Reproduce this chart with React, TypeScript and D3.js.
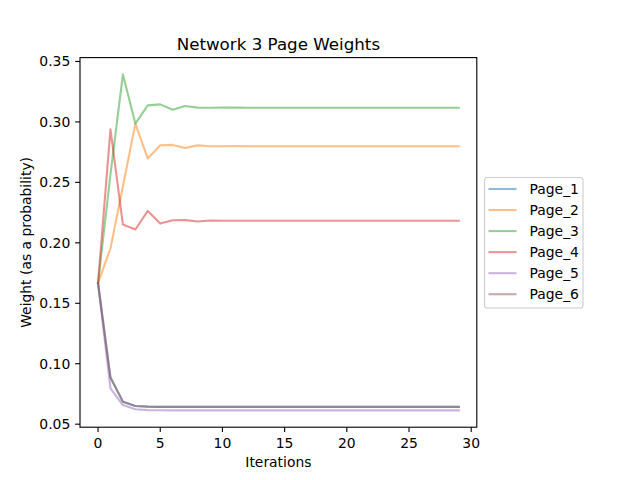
import React from "react";
import * as d3 from "d3";

const iterations: number[] = Array.from({ length: 30 }, (_, i) => i);

const page1: number[] = [0.1667, 0.0886, 0.0685, 0.0650, 0.0645, 0.0643, 0.0643, 0.0643, 0.0643, 0.0643, 0.0643, 0.0643, 0.0643, 0.0643, 0.0643, 0.0643, 0.0643, 0.0643, 0.0643, 0.0643, 0.0643, 0.0643, 0.0643, 0.0643, 0.0643, 0.0643, 0.0643, 0.0643, 0.0643, 0.0643];
const page2: number[] = [0.1667, 0.1955, 0.2468, 0.2986, 0.2697, 0.2807, 0.2810, 0.2784, 0.2806, 0.2799, 0.2799, 0.2800, 0.2799, 0.2799, 0.2799, 0.2799, 0.2799, 0.2799, 0.2799, 0.2799, 0.2799, 0.2799, 0.2799, 0.2799, 0.2799, 0.2799, 0.2799, 0.2799, 0.2799, 0.2799];
const page3: number[] = [0.1667, 0.2569, 0.3393, 0.2986, 0.3137, 0.3145, 0.3100, 0.3131, 0.3118, 0.3117, 0.3119, 0.3118, 0.3117, 0.3117, 0.3117, 0.3117, 0.3117, 0.3117, 0.3117, 0.3117, 0.3117, 0.3117, 0.3117, 0.3117, 0.3117, 0.3117, 0.3117, 0.3117, 0.3117, 0.3117];
const page4: number[] = [0.1667, 0.2939, 0.2151, 0.2110, 0.2264, 0.2159, 0.2187, 0.2188, 0.2177, 0.2184, 0.2182, 0.2183, 0.2183, 0.2183, 0.2183, 0.2183, 0.2183, 0.2183, 0.2183, 0.2183, 0.2183, 0.2183, 0.2183, 0.2183, 0.2183, 0.2183, 0.2183, 0.2183, 0.2183, 0.2183];
const page5: number[] = [0.1667, 0.0796, 0.0658, 0.0623, 0.0616, 0.0615, 0.0614, 0.0614, 0.0614, 0.0614, 0.0614, 0.0614, 0.0614, 0.0614, 0.0614, 0.0614, 0.0614, 0.0614, 0.0614, 0.0614, 0.0614, 0.0614, 0.0614, 0.0614, 0.0614, 0.0614, 0.0614, 0.0614, 0.0614, 0.0614];
const page6: number[] = [0.1667, 0.0886, 0.0685, 0.0650, 0.0645, 0.0643, 0.0643, 0.0643, 0.0643, 0.0643, 0.0643, 0.0643, 0.0643, 0.0643, 0.0643, 0.0643, 0.0643, 0.0643, 0.0643, 0.0643, 0.0643, 0.0643, 0.0643, 0.0643, 0.0643, 0.0643, 0.0643, 0.0643, 0.0643, 0.0643];

const seriesNames: string[] = ["Page_1", "Page_2", "Page_3", "Page_4", "Page_5", "Page_6"];
const seriesValues: number[][] = [page1, page2, page3, page4, page5, page6];
const seriesColors: string[] = ["#1f77b4", "#ff7f0e", "#2ca02c", "#d62728", "#9467bd", "#8c564b"];

const xTicks: number[] = [0, 5, 10, 15, 20, 25, 30];
const yTicks: number[] = [0.05, 0.10, 0.15, 0.20, 0.25, 0.30, 0.35];

const title = "Network 3 Page Weights";
const xLabel = "Iterations";
const yLabel = "Weight (as a probability)";

export default function App() {
  const W = 640, H = 480;
  const left = 80, right = 476.8, top = 57.6, bottom = 427.2;
  const font = "DejaVu Sans, sans-serif";

  const allVals = seriesValues.flat();
  const yMin = d3.min(allVals)!;
  const yMax = d3.max(allVals)!;
  const yPad = (yMax - yMin) * 0.05;
  const xPad = 29 * 0.05;

  const x = d3.scaleLinear().domain([0 - xPad, 29 + xPad]).range([left, right]);
  const y = d3.scaleLinear().domain([yMin - yPad, yMax + yPad]).range([bottom, top]);

  const line = d3
    .line<number>()
    .x((_, i) => x(iterations[i]))
    .y((d) => y(d));

  const tickLen = 4.86;
  const legX = 484.5, legY = 177.5, legW = 98.5, legH = 130.5;

  return (
    <div style={{ position: "fixed", left: 0, top: 0 }}>
      <svg width={W} height={H} style={{ display: "block", background: "#fff" }} fontFamily={font}>
        <rect x={0} y={0} width={W} height={H} fill="#fff" />
        {seriesValues.map((vals, k) => (
          <path
            key={k}
            d={line(vals) || ""}
            fill="none"
            stroke={seriesColors[k]}
            strokeOpacity={0.5}
            strokeWidth={2.08}
            strokeLinejoin="round"
            strokeLinecap="square"
          />
        ))}
        {/* spines */}
        <rect x={left} y={top} width={right - left} height={bottom - top} fill="none" stroke="#000" strokeWidth={1.1} />
        {/* x ticks */}
        {xTicks.map((t) => (
          <g key={t}>
            <line x1={x(t)} x2={x(t)} y1={bottom} y2={bottom + tickLen} stroke="#000" strokeWidth={1.1} />
            <text x={x(t)} y={bottom + 20.5} textAnchor="middle" fontSize={13.9} fill="#000">
              {t}
            </text>
          </g>
        ))}
        {/* y ticks */}
        {yTicks.map((t) => (
          <g key={t}>
            <line x1={left - tickLen} x2={left} y1={y(t)} y2={y(t)} stroke="#000" strokeWidth={1.1} />
            <text x={left - 9.7} y={y(t) + 5} textAnchor="end" fontSize={13.9} fill="#000">
              {t.toFixed(2)}
            </text>
          </g>
        ))}
        <text x={(left + right) / 2} y={467} textAnchor="middle" fontSize={13.9} fill="#000">
          {xLabel}
        </text>
        <text
          transform={`translate(31,${(top + bottom) / 2}) rotate(-90)`}
          textAnchor="middle"
          fontSize={13.9}
          fill="#000"
        >
          {yLabel}
        </text>
        <text x={(left + right) / 2} y={49.5} textAnchor="middle" fontSize={16.7} fill="#000">
          {title}
        </text>
        {/* legend */}
        <rect x={legX} y={legY} width={legW} height={legH} rx={2.8} fill="#fff" fillOpacity={0.8} stroke="#ccc" strokeWidth={1.1} />
        {seriesNames.map((name, k) => {
          const cy = 189 + k * 21.05;
          return (
            <g key={name}>
              <line x1={488.5} x2={516.5} y1={cy} y2={cy} stroke={seriesColors[k]} strokeOpacity={0.5} strokeWidth={2.08} />
              <text x={529.5} y={cy + 5} fontSize={13.9} fill="#000">
                {name}
              </text>
            </g>
          );
        })}
      </svg>
    </div>
  );
}
